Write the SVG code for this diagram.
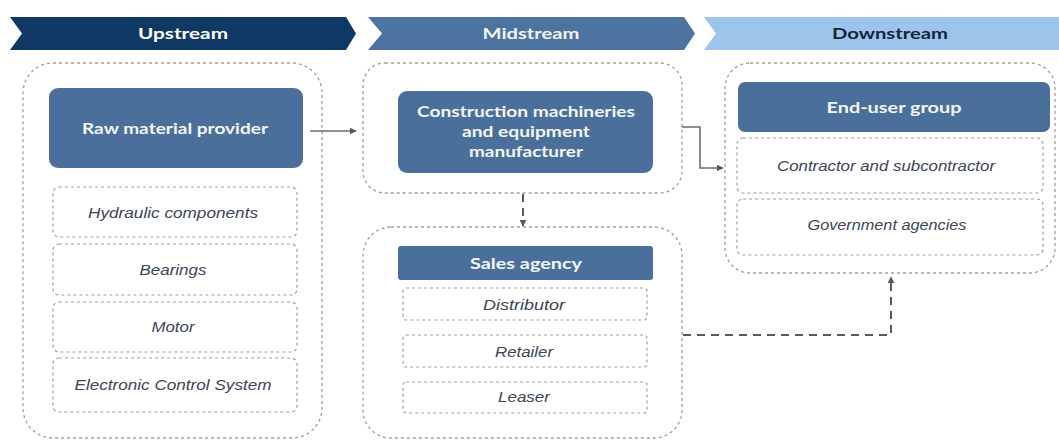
<svg xmlns="http://www.w3.org/2000/svg" width="1059" height="441" viewBox="0 0 1059 441">
  <defs>
    <marker id="tri" viewBox="0 0 10 10" refX="9" refY="5" markerWidth="7" markerHeight="7" markerUnits="userSpaceOnUse" orient="auto">
      <path d="M0,0 L10,5 L0,10 z" fill="#5a5a5a"/>
    </marker>
    <style>
      .stage { font-family: Lato, "Open Sans", "Liberation Sans", sans-serif; font-weight: 700; font-size: 16px; text-anchor: middle; }
      .group { fill: none; stroke: #a0a0a0; stroke-width: 1.3; stroke-dasharray: 3 3; }
      .item { fill: #ffffff; stroke: #a0a0a0; stroke-width: 1.2; stroke-dasharray: 3 3; }
      .head { fill: #4a6f9b; }
      .head-text { font-family: Lato, "Open Sans", "Liberation Sans", sans-serif; font-weight: 700; font-size: 15px; fill: #f4f6fa; text-anchor: middle; }
      .item-text { font-family: "Liberation Sans", Arial, sans-serif; font-style: italic; font-size: 14px; fill: #3b4656; text-anchor: middle; }
      .link { fill: none; stroke: #6b6b6b; stroke-width: 1.6; }
      .link-dash { fill: none; stroke: #5a5a5a; stroke-width: 2; stroke-dasharray: 8 6; }
    </style>
  </defs>

  <rect width="1059" height="441" fill="#ffffff"/>

  <!-- stage banners -->
  <g id="banner-upstream">
    <path d="M10,17 H346 L356,33.5 L346,50 H10 L22,33.5 z" fill="#0f3864"/>
    <text class="stage" x="183" y="39" fill="#ffffff" textLength="90" lengthAdjust="spacingAndGlyphs">Upstream</text>
  </g>
  <g id="banner-midstream">
    <path d="M368,17 H684 L695,33.5 L684,50 H368 L382,33.5 z" fill="#4d74a0"/>
    <text class="stage" x="531" y="39" fill="#f2f4f8" textLength="97" lengthAdjust="spacingAndGlyphs">Midstream</text>
  </g>
  <g id="banner-downstream">
    <path d="M704,17 H1059 V50 H704 L716,33.5 z" fill="#9dc5ec"/>
    <text class="stage" x="890" y="39" fill="#14243c" textLength="116" lengthAdjust="spacingAndGlyphs">Downstream</text>
  </g>

  <!-- upstream -->
  <g id="upstream">
    <rect class="group" x="23" y="63" width="299" height="375" rx="30"/>
    <rect class="head" x="49" y="88" width="254" height="80" rx="9"/>
    <text class="head-text" x="175" y="133.5" textLength="186" lengthAdjust="spacingAndGlyphs">Raw material provider</text>
    <rect class="item" x="53" y="187" width="244" height="50" rx="6"/>
    <text class="item-text" x="173" y="217.5" textLength="170" lengthAdjust="spacingAndGlyphs">Hydraulic components</text>
    <rect class="item" x="53" y="244" width="244" height="51" rx="6"/>
    <text class="item-text" x="173" y="274.5" textLength="67" lengthAdjust="spacingAndGlyphs">Bearings</text>
    <rect class="item" x="53" y="302" width="244" height="50" rx="6"/>
    <text class="item-text" x="173" y="332" textLength="43" lengthAdjust="spacingAndGlyphs">Motor</text>
    <rect class="item" x="53" y="358" width="244" height="54" rx="6"/>
    <text class="item-text" x="173" y="390" textLength="197" lengthAdjust="spacingAndGlyphs">Electronic Control System</text>
  </g>

  <!-- midstream: manufacturer -->
  <g id="manufacturer">
    <rect class="group" x="363" y="63" width="319" height="130" rx="22"/>
    <rect class="head" x="398" y="91" width="255" height="82" rx="9"/>
    <text class="head-text" x="526" y="117" textLength="218" lengthAdjust="spacingAndGlyphs">Construction  machineries</text>
    <text class="head-text" x="526" y="137" textLength="128" lengthAdjust="spacingAndGlyphs">and equipment</text>
    <text class="head-text" x="526" y="157" textLength="114" lengthAdjust="spacingAndGlyphs">manufacturer</text>
  </g>

  <!-- midstream: sales agency -->
  <g id="sales-agency">
    <rect class="group" x="363" y="227" width="319" height="211" rx="28"/>
    <rect class="head" x="398" y="246" width="255" height="34" rx="3"/>
    <text class="head-text" x="526" y="268.5" textLength="112" lengthAdjust="spacingAndGlyphs">Sales agency</text>
    <rect class="item" x="403" y="288" width="244" height="32" rx="3"/>
    <text class="item-text" x="524" y="309.5" textLength="82" lengthAdjust="spacingAndGlyphs">Distributor</text>
    <rect class="item" x="403" y="335" width="244" height="32" rx="3"/>
    <text class="item-text" x="524" y="356.5" textLength="58" lengthAdjust="spacingAndGlyphs">Retailer</text>
    <rect class="item" x="403" y="382" width="244" height="31" rx="3"/>
    <text class="item-text" x="524" y="402" textLength="52" lengthAdjust="spacingAndGlyphs">Leaser</text>
  </g>

  <!-- downstream -->
  <g id="downstream">
    <rect class="group" x="725" y="63" width="330" height="210" rx="25"/>
    <rect class="head" x="738" y="82" width="312" height="50" rx="7"/>
    <text class="head-text" x="894" y="112.5" textLength="135" lengthAdjust="spacingAndGlyphs">End-user  group</text>
    <rect class="item" x="737" y="138" width="306" height="55" rx="6"/>
    <text class="item-text" x="886" y="170.5" textLength="218" lengthAdjust="spacingAndGlyphs">Contractor and subcontractor</text>
    <rect class="item" x="737" y="199" width="306" height="56" rx="6"/>
    <text class="item-text" x="887" y="230" textLength="159" lengthAdjust="spacingAndGlyphs">Government agencies</text>
  </g>

  <!-- connectors -->
  <g id="connectors">
    <path class="link" d="M310,131 H356" marker-end="url(#tri)"/>
    <path class="link" d="M682,127 H700 V168 H723" marker-end="url(#tri)"/>
    <path class="link-dash" d="M523,194 V226" stroke-dasharray="6 5" marker-end="url(#tri)"/>
    <path class="link-dash" d="M683,335 H891 V277" marker-end="url(#tri)"/>
  </g>
</svg>
